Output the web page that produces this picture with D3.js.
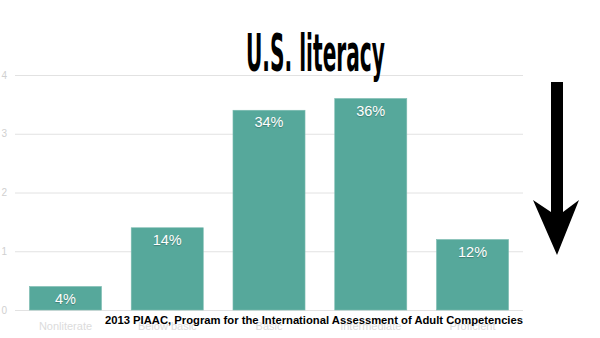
<!DOCTYPE html>
<html>
<head>
<meta charset="utf-8">
<script src="https://cdn.jsdelivr.net/npm/d3@7"></script>
<style>
  html, body { margin: 0; padding: 0; background: #fff; }
  svg { display: block; }
</style>
</head>
<body>
<svg id="chart" width="600" height="338"></svg>
<script>
// Literacy levels and share of U.S. adults (tens of percent on the axis)
const categories = ["Nonliterate", "Below basic", "Basic", "Intermediate", "Proficient"];
const shares = [0.4, 1.4, 3.4, 3.6, 1.2];
const valueLabels = ["4%", "14%", "34%", "36%", "12%"];
const tickValues = [0, 1, 2, 3, 4];
const tickLabels = ["0", "1", "2", "3", "4"];

const svg = d3.select("#chart");
const plot = { left: 15, right: 523, top: 75, bottom: 310 };

const x = d3.scaleBand()
  .domain(categories)
  .range([plot.left, plot.right])
  .paddingInner(0.292)
  .paddingOuter(0.142);

const y = d3.scaleLinear()
  .domain([0, 4])
  .range([plot.bottom, plot.top]);

// gridlines
const yAxis = d3.axisLeft(y)
  .tickValues(tickValues)
  .tickFormat((d, i) => tickLabels[i])
  .tickSize(-(plot.right - plot.left))
  .tickPadding(6);

const gy = svg.append("g")
  .attr("transform", `translate(${plot.left},0)`)
  .call(yAxis);
gy.select(".domain").remove();
gy.selectAll(".tick line").attr("stroke", "#e2e2e2").attr("stroke-width", 1);
gy.selectAll(".tick text")
  .attr("fill", "#d0d0d0")
  .attr("font-family", "Liberation Sans, Arial, sans-serif")
  .attr("font-size", 10)
  .attr("x", -8);

// category axis (faint, sits beneath the source caption)
const xAxis = d3.axisBottom(x).tickSize(0).tickPadding(12);
const gx = svg.append("g")
  .attr("transform", `translate(0,${plot.bottom})`)
  .call(xAxis);
gx.select(".domain").remove();
gx.selectAll(".tick text")
  .attr("fill", "#dcdcdc")
  .attr("font-family", "Liberation Sans, Arial, sans-serif")
  .attr("font-size", 11);

// bars
svg.append("g").selectAll("rect")
  .data(shares)
  .join("rect")
  .attr("x", (d, i) => x(categories[i]))
  .attr("y", d => y(d))
  .attr("width", x.bandwidth())
  .attr("height", d => y(0) - y(d))
  .attr("fill", "#56a89b")
  .attr("stroke", "#7dbcb1")
  .attr("stroke-width", 0.6);

// value labels
svg.append("g").selectAll("text")
  .data(shares)
  .join("text")
  .attr("x", (d, i) => x(categories[i]) + x.bandwidth() / 2)
  .attr("y", d => y(d) + 17)
  .attr("text-anchor", "middle")
  .attr("fill", "#fff")
  .attr("font-family", "Liberation Sans, Arial, sans-serif")
  .attr("font-size", 14.5)
  .style("text-shadow", "0 1px 1px rgba(0,0,0,0.25)")
  .text((d, i) => valueLabels[i]);

// title: bold condensed face, squeezed horizontally into a headline
const titleG = svg.append("g");
const title = titleG.append("text")
  .attr("x", 0)
  .attr("y", 0)
  .style("font-family", "'DejaVu Sans Condensed', 'DejaVu Sans', sans-serif")
  .style("font-weight", "700")
  .style("font-style", "normal")
  .style("font-synthesis", "none")
  .attr("font-size", 50)
  .attr("fill", "#000")
  .text("U.S. literacy");
const tw = title.node().getComputedTextLength();
const sx = 139 / tw;
titleG.attr("transform", `translate(246,71) scale(${sx},1.03)`);

// source caption
svg.append("text")
  .attr("x", 314)
  .attr("y", 324)
  .attr("text-anchor", "middle")
  .attr("font-family", "Liberation Sans, Arial, sans-serif")
  .attr("font-weight", "bold")
  .attr("font-size", 11)
  .attr("textLength", 418)
  .attr("lengthAdjust", "spacingAndGlyphs")
  .attr("fill", "#000")
  .text("2013 PIAAC, Program for the International Assessment of Adult Competencies");

// downward arrow
const arrow = d3.path();
arrow.moveTo(551, 82);
arrow.lineTo(563, 82);
arrow.lineTo(563, 212);
arrow.lineTo(579, 200);
arrow.lineTo(557, 255);
arrow.lineTo(533, 200);
arrow.lineTo(551, 212);
arrow.closePath();
svg.append("path").attr("d", arrow.toString()).attr("fill", "#000");
</script>
</body>
</html>
